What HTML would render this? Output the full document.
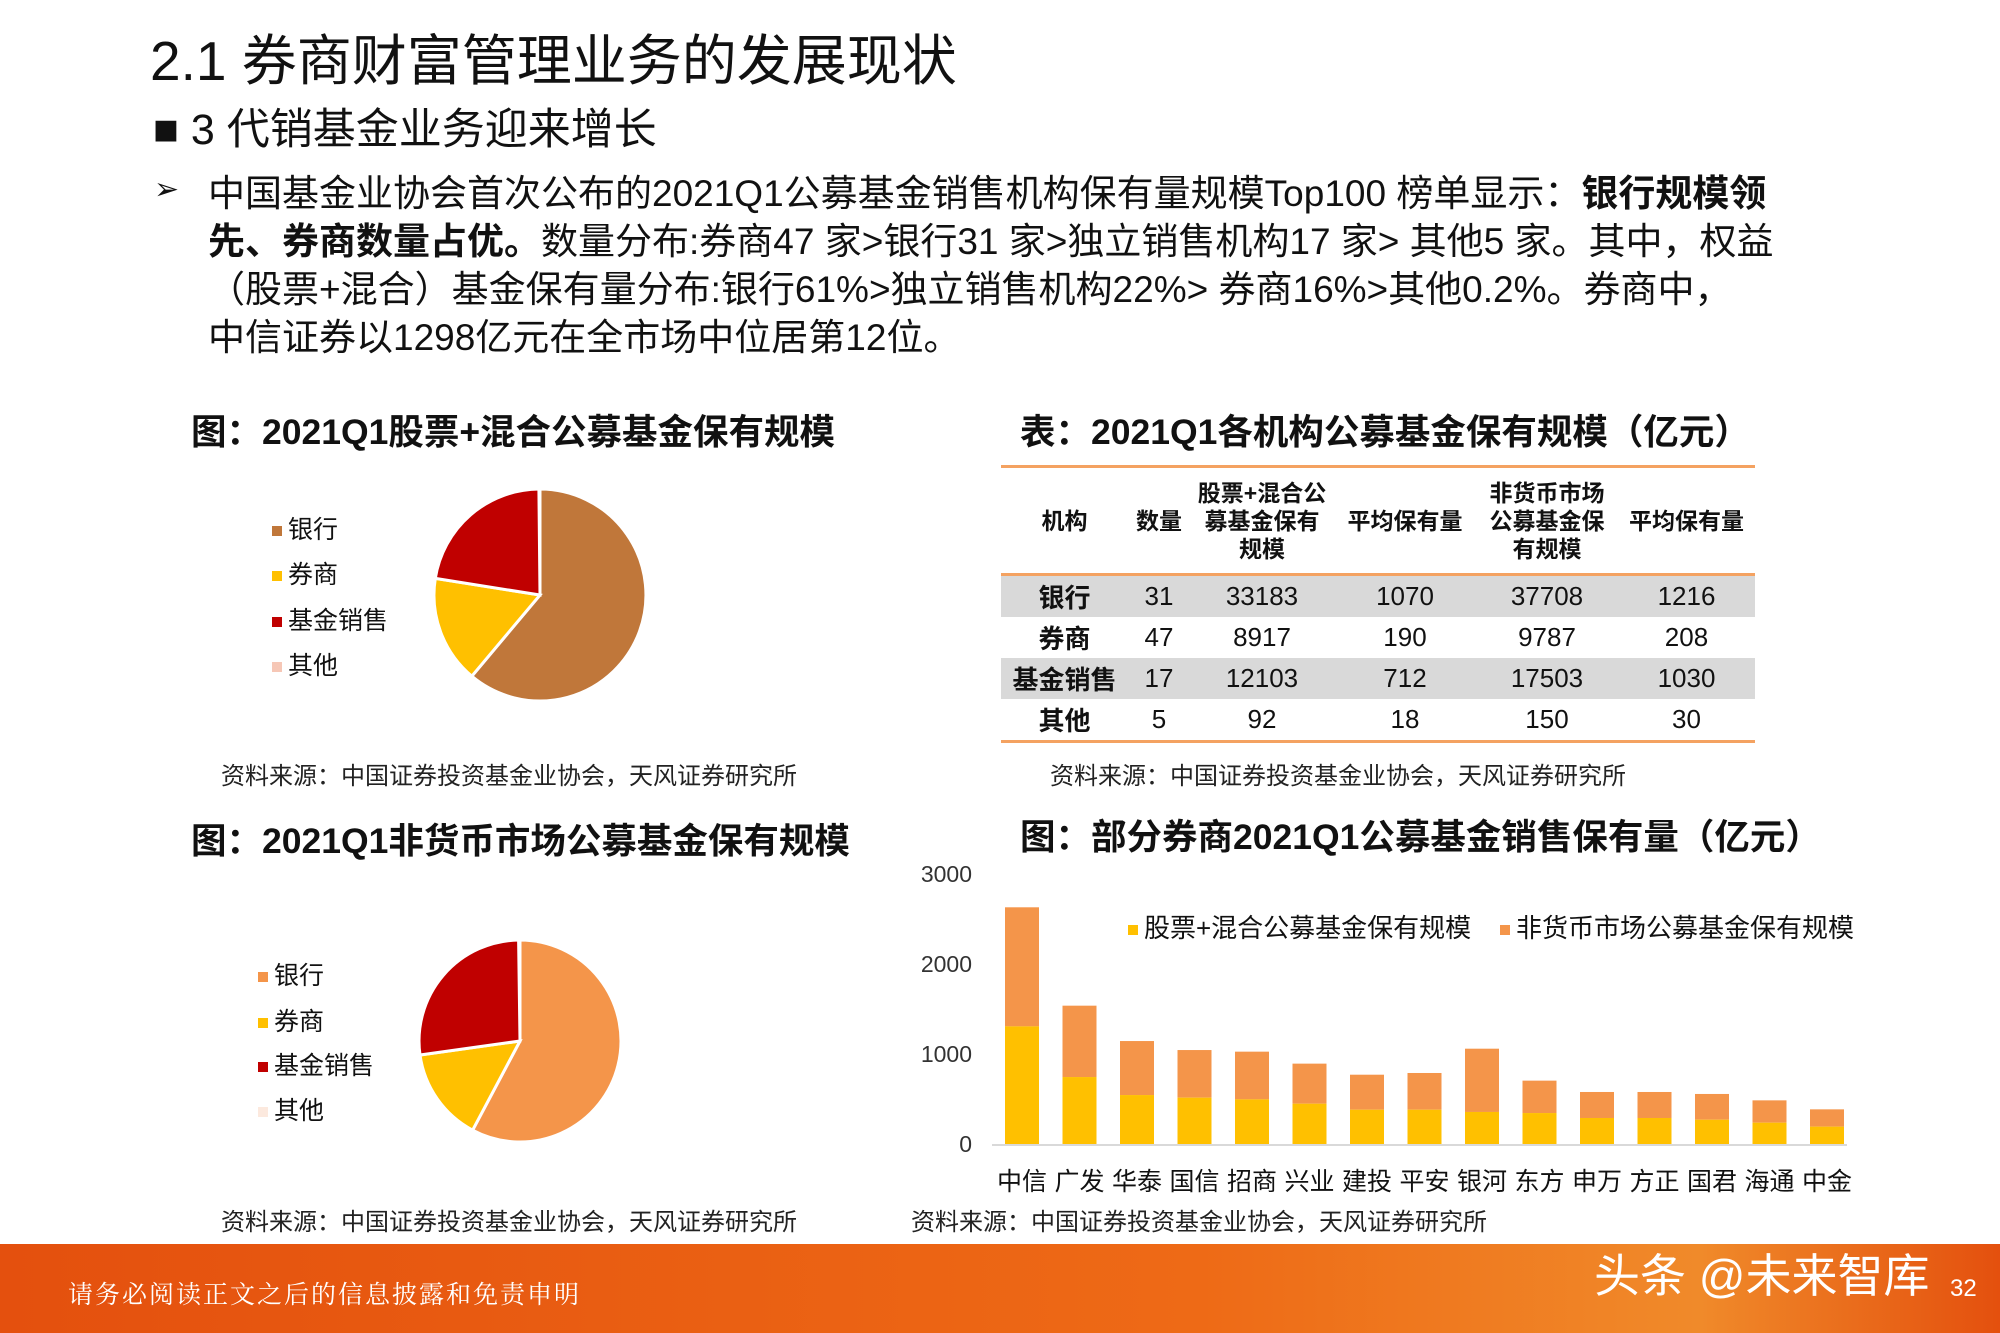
<!DOCTYPE html>
<html><head><meta charset="utf-8">
<style>
body{margin:0;width:2000px;height:1333px;position:relative;background:#fff;overflow:hidden;font-family:"Liberation Sans","Noto Sans CJK SC",sans-serif;color:#111}
.a{position:absolute;white-space:nowrap}
.t{left:150px;top:16px;font-size:55px}
.s{left:153px;top:95px;font-size:43px}
.p{left:208px;font-size:37px;line-height:48px}
.h{font-size:35.5px;font-weight:bold}
.src{font-size:24px;color:#222}
.lg{font-size:25px}
.sq{display:inline-block;width:10px;height:10px;margin-right:6px;vertical-align:middle}
table{border-collapse:collapse;font-size:26px}
td{text-align:center;padding:0;height:41px}
th{font-size:23px;font-weight:bold;height:103px;line-height:28px;text-align:center}
</style></head><body>
<div class="a t">2.1 券商财富管理业务的发展现状</div>
<div class="a s">■ 3 代销基金业务迎来增长</div>
<div class="a" style="left:154px;top:172px;font-size:30px">➢</div>
<div class="a p" style="top:170px">中国基金业协会首次公布的2021Q1公募基金销售机构保有量规模Top100 榜单显示：<b>银行规模领</b></div>
<div class="a p" style="top:218px"><b>先、券商数量占优。</b>数量分布:券商47 家>银行31 家>独立销售机构17 家> 其他5 家。其中，权益</div>
<div class="a p" style="top:266px">（股票+混合）基金保有量分布:银行61%>独立销售机构22%> 券商16%>其他0.2%。券商中，</div>
<div class="a p" style="top:314px">中信证券以1298亿元在全市场中位居第12位。</div>

<div class="a h" style="left:191px;top:404px">图：2021Q1股票+混合公募基金保有规模</div>
<div class="a h" style="left:1020px;top:404px">表：2021Q1各机构公募基金保有规模（亿元）</div>
<div class="a h" style="left:191px;top:813px">图：2021Q1非货币市场公募基金保有规模</div>
<div class="a h" style="left:1020px;top:809px">图：部分券商2021Q1公募基金销售保有量（亿元）</div>

<svg class="a" style="left:0;top:0" width="2000" height="1333">
<g stroke="#fff" stroke-width="3">
<path d="M540 595 L540 489 A106 106 0 1 1 471.8 676.2Z" fill="#C0773A"/>
<path d="M540 595 L471.8 676.2 A106 106 0 0 1 435.3 578.4Z" fill="#FFC000"/>
<path d="M540 595 L435.3 578.4 A106 106 0 0 1 538.9 489Z" fill="#C00000"/>
<path d="M520 1041 L520 940 A101 101 0 1 1 472.6 1130.2Z" fill="#F4954A"/>
<path d="M520 1041 L472.6 1130.2 A101 101 0 0 1 420 1055Z" fill="#FFC000"/>
<path d="M520 1041 L420 1055 A101 101 0 0 1 518.6 940Z" fill="#C00000"/>
</g>
<g id="bars"></g>
<line x1="992" y1="1145" x2="1847" y2="1145" stroke="#d9d9d9" stroke-width="2"/>
<g font-size="23" fill="#333" text-anchor="end">
<text x="972" y="882">3000</text><text x="972" y="972">2000</text><text x="972" y="1062">1000</text><text x="972" y="1152">0</text>
</g>
<g id="xl" font-size="25" fill="#111" text-anchor="middle"></g>
</svg>
<div class="a lg" style="left:272px;top:510px"><span class="sq" style="background:#C0773A"></span>银行</div>
<div class="a lg" style="left:272px;top:555px"><span class="sq" style="background:#FFC000"></span>券商</div>
<div class="a lg" style="left:272px;top:601px"><span class="sq" style="background:#C00000"></span>基金销售</div>
<div class="a lg" style="left:272px;top:646px"><span class="sq" style="background:#F6C7B6"></span>其他</div>
<div class="a lg" style="left:258px;top:956px"><span class="sq" style="background:#F4954A"></span>银行</div>
<div class="a lg" style="left:258px;top:1002px"><span class="sq" style="background:#FFC000"></span>券商</div>
<div class="a lg" style="left:258px;top:1046px"><span class="sq" style="background:#C00000"></span>基金销售</div>
<div class="a lg" style="left:258px;top:1091px"><span class="sq" style="background:#FCE9DE"></span>其他</div>

<div class="a src" style="left:221px;top:756px">资料来源：中国证券投资基金业协会，天风证券研究所</div>
<div class="a src" style="left:1050px;top:756px">资料来源：中国证券投资基金业协会，天风证券研究所</div>
<div class="a src" style="left:221px;top:1202px">资料来源：中国证券投资基金业协会，天风证券研究所</div>
<div class="a src" style="left:911px;top:1202px">资料来源：中国证券投资基金业协会，天风证券研究所</div>

<table class="a" style="left:1001px;top:465px;width:754px;border-top:3px solid #F4A261;border-bottom:3px solid #F4A261">
<tr style="border-bottom:3px solid #F4A261"><th style="width:125px">机构</th><th style="width:60px">数量</th><th style="width:142px">股票+混合公<br>募基金保有<br>规模</th><th style="width:140px">平均保有量</th><th style="width:140px">非货币市场<br>公募基金保<br>有规模</th><th>平均保有量</th></tr>
<tr style="background:#D9D9D9"><td><b>银行</b></td><td>31</td><td>33183</td><td>1070</td><td>37708</td><td>1216</td></tr>
<tr><td><b>券商</b></td><td>47</td><td>8917</td><td>190</td><td>9787</td><td>208</td></tr>
<tr style="background:#D9D9D9"><td><b>基金销售</b></td><td>17</td><td>12103</td><td>712</td><td>17503</td><td>1030</td></tr>
<tr><td><b>其他</b></td><td>5</td><td>92</td><td>18</td><td>150</td><td>30</td></tr>
</table>

<div class="a" style="left:1128px;top:908px;font-size:26px"><span class="sq" style="background:#FFC000"></span>股票+混合公募基金保有规模</div>
<div class="a" style="left:1500px;top:908px;font-size:26px"><span class="sq" style="background:#F4954A"></span>非货币市场公募基金保有规模</div>

<div class="a" style="left:0;top:1244px;width:2000px;height:89px;background:linear-gradient(90deg,#E4500E,#EE6A16 60%,#F08A2A 85%,#E4500E)"></div>
<div class="a" style="left:68px;top:1275px;font-size:25px;color:#fff;font-family:'Liberation Serif','Noto Serif CJK SC',serif;letter-spacing:2px">请务必阅读正文之后的信息披露和免责申明</div>
<div class="a" style="left:1594px;top:1240px;font-size:46px;color:#fff">头条 @未来智库</div>
<div class="a" style="left:1950px;top:1275px;font-size:24px;color:#fff">32</div>

<script>
var v=[[2630,1307],[1537,744],[1144,544],[1044,515],[1026,496],[893,448],[770,381],[789,381],[1059,356],[704,344],[578,289],[578,289],[556,270],[485,237],[385,193]];
var n=['中信','广发','华泰','国信','招商','兴业','建投','平安','银河','东方','申万','方正','国君','海通','中金'];
var s='',t='';v.forEach(function(d,i){var x=1005+57.5*i,b=1144,k=0.09;
s+='<rect x="'+x+'" y="'+(b-d[0]*k)+'" width="34" height="'+((d[0]-d[1])*k)+'" fill="#F4954A"/>';
s+='<rect x="'+x+'" y="'+(b-d[1]*k)+'" width="34" height="'+(d[1]*k)+'" fill="#FFC000"/>';
t+='<text x="'+(x+17)+'" y="1190">'+n[i]+'</text>';});
document.getElementById('bars').innerHTML=s;
document.getElementById('xl').innerHTML=t;
</script>
</body></html>
